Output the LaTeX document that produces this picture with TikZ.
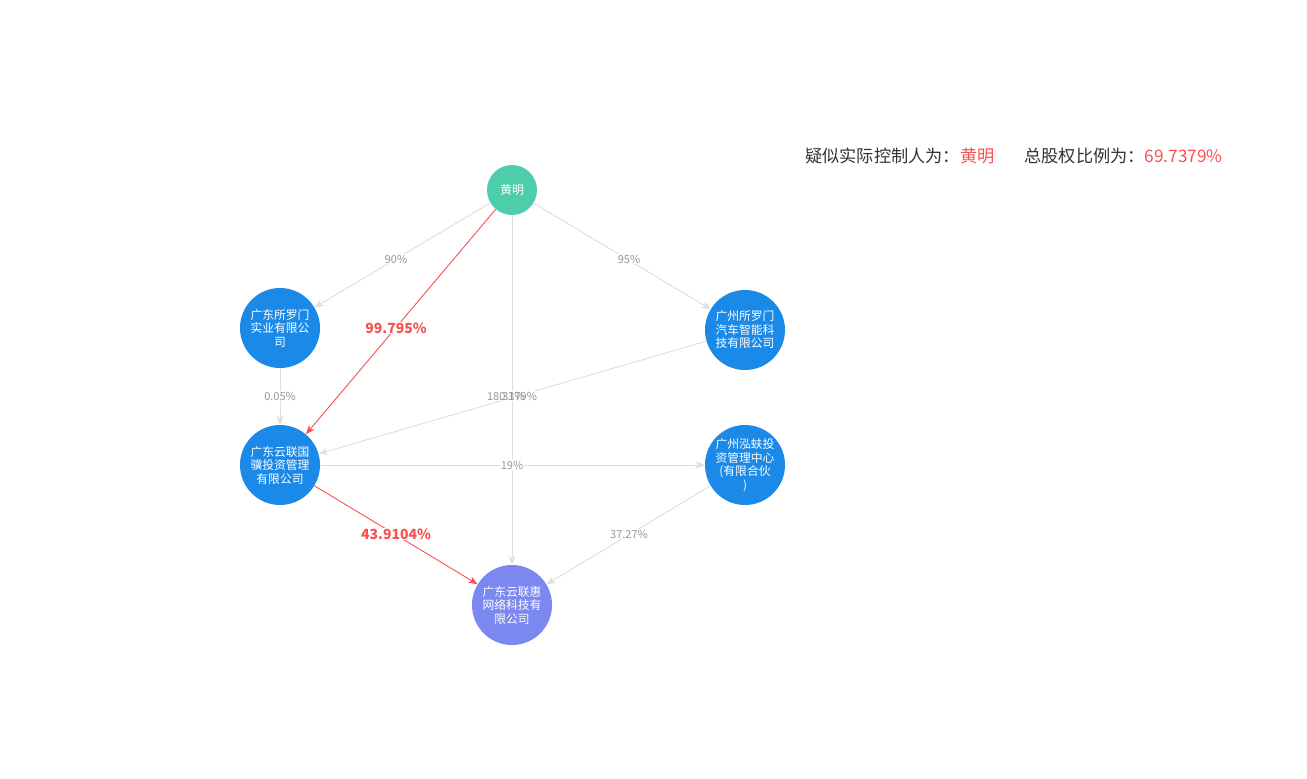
\documentclass[tikz,border=0pt]{standalone}
\usepackage{fontspec}
\setmainfont{Noto Sans CJK SC}
\usetikzlibrary{arrows.meta}
\definecolor{teal1}{RGB}{78,205,170}
\definecolor{blue1}{RGB}{26,137,232}
\definecolor{purp1}{RGB}{123,136,240}
\definecolor{edgegray}{RGB}{222,222,222}
\definecolor{labgray}{RGB}{150,150,150}
\definecolor{red1}{RGB}{250,80,80}
\definecolor{txt1}{RGB}{51,51,51}
\tikzset{
  ent/.style={circle, draw=none, fill=blue1, minimum size=80pt, inner sep=0pt, text=white, align=center, font=\fontsize{11.8}{13.5}\selectfont},
  person/.style={circle, fill=teal1, minimum size=50pt, inner sep=0pt, text=white, font=\fontsize{12}{14}\selectfont},
  link/.style={draw=edgegray, line width=0.9pt, -{Stealth[length=9pt,width=7pt,inset=2.5pt]}},
  redlink/.style={draw=red1, line width=0.9pt, -{Stealth[length=9pt,width=7pt,inset=2.5pt]}},
  lab/.style={fill=white, inner sep=1pt, text=labgray, font=\fontsize{11}{13}\selectfont},
  redlab/.style={fill=white, inner sep=1pt, text=red1, font=\bfseries\fontsize{14}{16}\selectfont},
}
\begin{document}
\begin{tikzpicture}[x=1pt,y=-1pt]
\useasboundingbox (0,0) rectangle (1307,779);
\fill[white] (0,0) rectangle (1307,779);

\node[person] (hm) at (512,190) {黄明};
\node[ent] (sy) at (280,328) {广东所罗门\\实业有限公\\司};
\node[ent] (qc) at (745,330) {广州所罗门\\汽车智能科\\技有限公司};
\node[ent] (lg) at (280,465) {广东云联国\\骥投资管理\\有限公司};
\node[ent] (hf) at (745,465) {广州泓蚨投\\资管理中心\\(有限合伙\\)};
\node[ent, fill=purp1] (lh) at (512,605) {广东云联惠\\网络科技有\\限公司};

\draw[link] (hm) -- (sy);
\draw[link] (hm) -- (qc);
\draw[link] (hm) -- (lh);
\draw[link] (sy) -- (lg);
\draw[link] (qc) -- (lg);
\draw[link] (lg) -- (hf);
\draw[link] (hf) -- (lh);
\draw[redlink] (hm) -- (lg);
\draw[redlink] (lg) -- (lh);

\node[lab] (l1) at (396,259) {90\%};
\node[lab] (l2) at (629,259) {95\%};
\node[lab] (l3) at (280,396) {0.05\%};
\node[lab] (l4) at (512,396) {18.3379\%};
\node[lab, fill=none] (l5) at (512,396) {0.1\%};
\node[lab] (l6) at (512,465) {19\%};
\node[lab] (l7) at (629,534) {37.27\%};
\node[redlab] (r1) at (396,328) {99.795\%};
\node[redlab] (r2) at (396,534) {43.9104\%};

\node[anchor=west, inner sep=0pt, font=\fontsize{17.2}{19}\selectfont, text=txt1] (ctl) at (805,156) {疑似实际控制人为：\textcolor{red1}{黄明}\hspace{30pt}总股权比例为：\textcolor{red1}{69.7379\%}};
\end{tikzpicture}
\end{document}
